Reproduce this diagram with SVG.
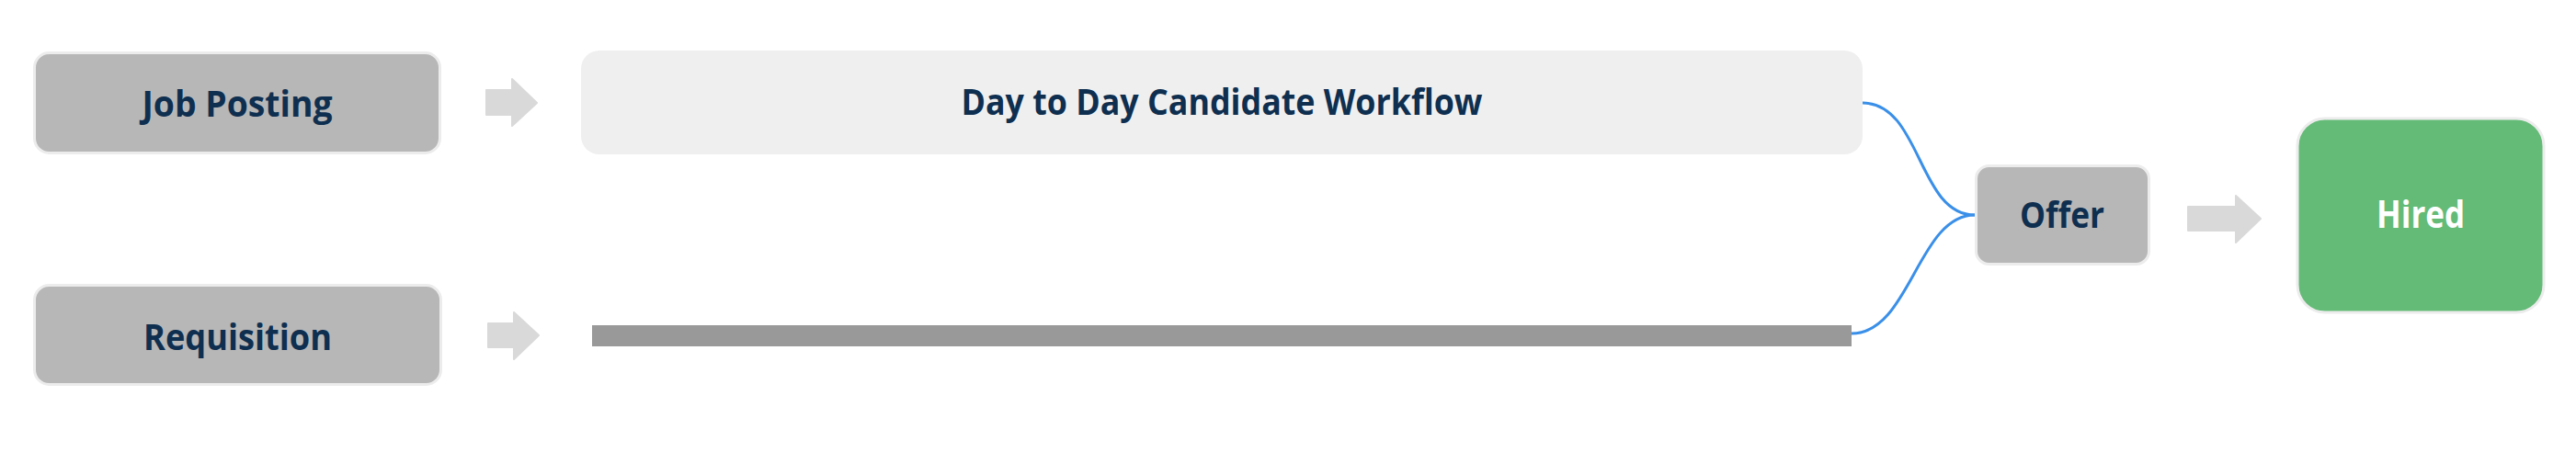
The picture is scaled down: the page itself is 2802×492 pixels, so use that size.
<svg xmlns="http://www.w3.org/2000/svg" width="2802" height="492" viewBox="0 0 2802 492">
<style>
.node{fill:#b7b7b7;stroke:#ececec;stroke-width:3}
.lbl{font-family:"Open Sans","Noto Sans","Liberation Sans",sans-serif;font-weight:700;font-size:39px;fill:#0f2f50;text-anchor:middle}
.arrow{fill:#d9d9d9;stroke:#d9d9d9;stroke-width:2;stroke-linejoin:round}
.link{fill:none;stroke:#3a8fe8;stroke-width:3}
</style>
<rect width="2802" height="492" fill="#ffffff"/>
<g id="connectors">
<path class="arrow" d="M529,98 H557 V86 L584,112 L557,137 V125 H529 Z"/>
<path class="arrow" d="M531,352 H559 V340 L586,365 L559,391 V378 H531 Z"/>
<path class="arrow" d="M2380,225 H2432 V213 L2459,238 L2432,264 V251 H2380 Z"/>
<path class="link" d="M2026,112 C2090,112 2086,234 2148,234"/>
<path class="link" d="M2014,363 C2078,363 2086,234 2148,234"/>
</g>
<g id="job-posting">
<rect class="node" x="37.5" y="57.5" width="441" height="109" rx="16"/>
<text class="lbl" x="258" y="127" textLength="207" lengthAdjust="spacingAndGlyphs">Job Posting</text>
</g>
<g id="requisition">
<rect class="node" x="37.5" y="310.5" width="442" height="108" rx="16"/>
<text class="lbl" x="258.5" y="381" textLength="205" lengthAdjust="spacingAndGlyphs">Requisition</text>
</g>
<g id="day-to-day">
<rect x="632" y="55" width="1394" height="113" rx="20" fill="#efefef"/>
<text class="lbl" x="1329" y="125" textLength="567" lengthAdjust="spacingAndGlyphs">Day to Day Candidate Workflow</text>
</g>
<g id="requisition-track">
<rect x="644" y="354" width="1370" height="23" fill="#999999"/>
</g>
<g id="offer">
<rect class="node" x="2149.5" y="180.5" width="188" height="107" rx="14"/>
<text class="lbl" x="2243" y="248" textLength="92" lengthAdjust="spacingAndGlyphs">Offer</text>
</g>
<g id="hired">
<rect x="2499" y="129" width="268" height="211" rx="30" fill="#64bb77" stroke="#ececec" stroke-width="3"/>
<text class="lbl" x="2633" y="248" textLength="96" lengthAdjust="spacingAndGlyphs" style="fill:#ffffff;font-size:42px">Hired</text>
</g>
</svg>
